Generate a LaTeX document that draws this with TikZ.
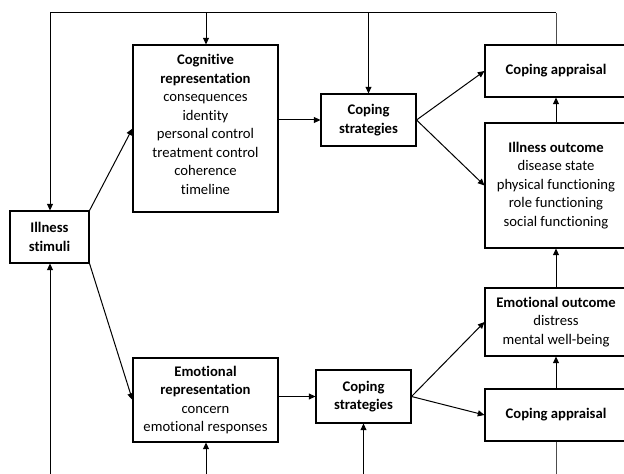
\documentclass[tikz,border=0pt]{standalone}
\usepackage{fontspec}
\setmainfont{Carlito}[Ligatures=NoCommon]
\usetikzlibrary{arrows.meta}
\begin{document}
\begin{tikzpicture}[x=0.75pt,y=-0.75pt,
  box/.style={draw, line width=0.8pt, align=center, inner sep=0pt,
    font=\fontsize{11}{13.9}\selectfont},
  txt/.style={align=center, inner sep=0pt, font=\fontsize{11}{13.9}\selectfont},
  conn/.style={line width=0.75pt},
  arr/.style={conn, -{Triangle[length=5pt,width=4.5pt]}},
  thinline/.style={line width=0.45pt, draw=black!70}]
\useasboundingbox (0,0) rectangle (624,474);
\clip (0,0) rectangle (624,474);
% nodes
\node[box, minimum width=108.75pt, minimum height=125.25pt] (cog) at (205.5,128.5) {};
\node[txt] (cogtext) at (205.5,124.5)
  {\textbf{Cognitive}\\\textbf{representation}\\consequences\\identity\\personal control\\treatment control\\coherence\\timeline};
\node[box, minimum width=59.25pt, minimum height=39pt] (stim) at (49.5,237)
  {\textbf{Illness}\\\textbf{stimuli}};
\node[box, minimum width=71.25pt, minimum height=39pt] (cs1) at (368.5,120)
  {\textbf{Coping}\\\textbf{strategies}};
\node[box, minimum width=106.5pt, minimum height=39pt] (capp1) at (556,71)
  {\textbf{Coping appraisal}};
\node[box, minimum width=106.5pt, minimum height=93.75pt] (iout) at (556,185.5)
  {\textbf{Illness outcome}\\disease state\\physical functioning\\role functioning\\social functioning};
\node[box, minimum width=106.5pt, minimum height=51pt] (eout) at (556,322)
  {\textbf{Emotional outcome}\\distress\\mental well-being};
\node[box, minimum width=106.5pt, minimum height=39pt] (capp2) at (556,415)
  {\textbf{Coping appraisal}};
\node[box, minimum width=71.25pt, minimum height=39.75pt] (cs2) at (363.5,396.5)
  {\textbf{Coping}\\\textbf{strategies}};
\node[box, minimum width=108.75pt, minimum height=63pt] (emo) at (205.5,400)
  {\textbf{Emotional}\\\textbf{representation}\\concern\\emotional responses};
% coordinates
\coordinate (tl) at (50,13);
\coordinate (tr) at (556,13);
\coordinate (tcog) at (206,13);
\coordinate (tcs) at (368.5,13);
\coordinate (bl) at (50,474);
\coordinate (bemo) at (206,474);
\coordinate (bcs) at (363.5,474);
\coordinate (br) at (556,474);
% top loop
\draw[thinline] (capp1.north) -- (tr);
\draw[conn] (tr) -- (tl);
\draw[arr] (tl) -- (stim.north -| tl);
\draw[arr] (tcog) -- (cog.north -| tcog);
\draw[arr] (tcs) -- (cs1.north);
% bottom inputs
\draw[arr] (bl) -- (stim.south -| bl);
\draw[arr] (bemo) -- (emo.south -| bemo);
\draw[arr] (bcs) -- (cs2.south);
\draw[thinline] (capp2.south) -- (br);
% main flow
\draw[arr] (stim.north east) -- (cog.west);
\draw[arr] (stim.south east) -- (emo.west);
\draw[arr] (cog.east |- cs1.west) -- (cs1.west);
\draw[arr] (emo.east |- cs2.west) -- (cs2.west);
\draw[arr] (cs1.east) -- (capp1.west);
\draw[arr] (cs1.east) -- (iout.west);
\draw[arr] (cs2.east) -- (eout.west);
\draw[arr] (cs2.east) -- (capp2.west);
\draw[arr] (iout.north) -- (capp1.south);
\draw[arr] (eout.north) -- (iout.south);
\draw[arr] (capp2.north) -- (eout.south);
\end{tikzpicture}
\end{document}
